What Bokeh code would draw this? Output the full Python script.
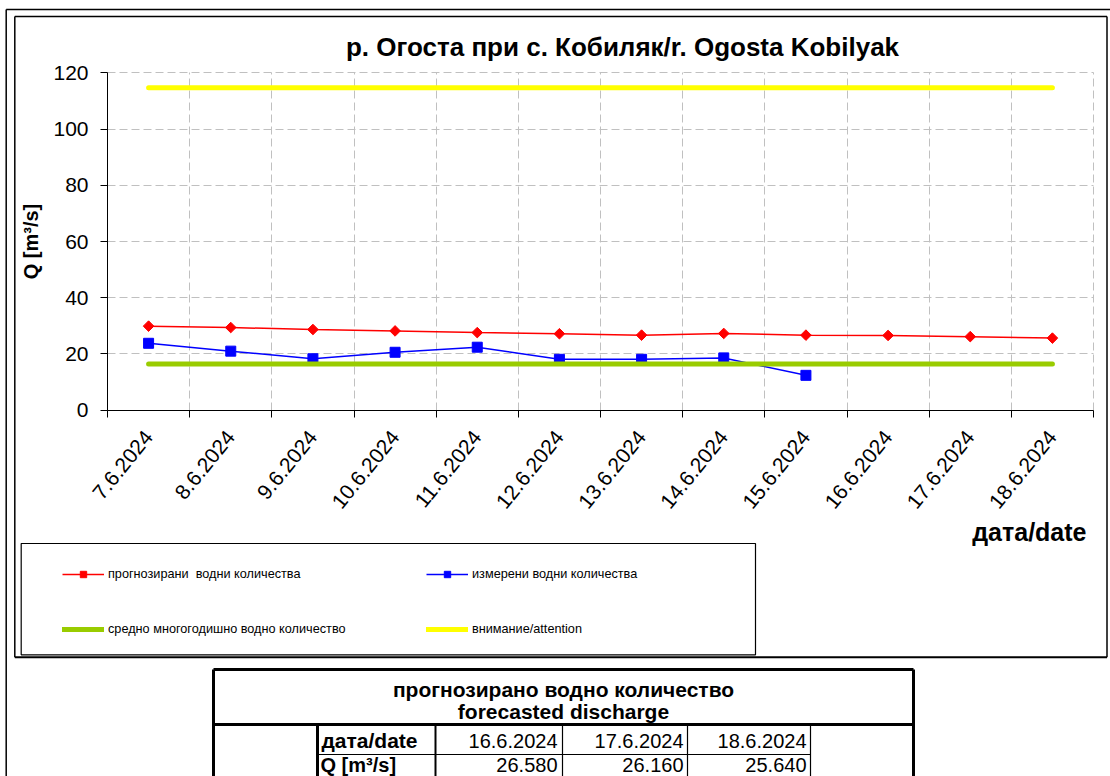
from bokeh.plotting import figure
from bokeh.models import Range1d, FixedTicker, Legend, LegendItem
from bokeh.core.properties import value
from bokeh.embed import file_html
from bokeh.resources import INLINE

# ---------------- data ----------------
dates = ["7.6.2024", "8.6.2024", "9.6.2024", "10.6.2024", "11.6.2024", "12.6.2024",
         "13.6.2024", "14.6.2024", "15.6.2024", "16.6.2024", "17.6.2024", "18.6.2024"]
forecast_q = [29.9, 29.4, 28.7, 28.2, 27.6, 27.2, 26.7, 27.3, 26.7, 26.58, 26.16, 25.64]
measured_q = [23.8, 21.0, 18.3, 20.6, 22.4, 18.1, 18.1, 18.6, 12.4]
mean_q = [16.4, 16.4, 16.4, 16.4, 16.4, 16.4, 16.4, 16.4, 16.4, 16.4, 16.4, 16.4]
attention_q = [114.7, 114.7, 114.7, 114.7, 114.7, 114.7, 114.7, 114.7, 114.7, 114.7, 114.7, 114.7]
y_ticks = [0, 20, 40, 60, 80, 100, 120]

title_text = "р. Огоста при с. Кобиляк/r. Ogosta Kobilyak"
y_title = "Q [m³/s]"
x_title = "дата/date"
legend_labels = ["прогнозирани  водни количества", "измерени водни количества",
                 "средно многогодишно водно количество", "внимание/attention"]
table_title = ["прогнозирано водно количество", "forecasted discharge"]
table_row_heads = ["дата/date", "Q [m³/s]"]
table_dates = ["16.6.2024", "17.6.2024", "18.6.2024"]
table_values = ["26.580", "26.160", "25.640"]

FONT = "Liberation Sans"
W, H = 1110, 776
RED, BLUE, GREEN, YELLOW = "#FF0000", "#0000FF", "#99CC00", "#FFFF00"
GRID = "#c0c0c0"

# plot-area placement on the page (pixels)
PX0, PX1 = 107.0, 1093.0      # left / right edge of the category axis
PY0, PY1 = 409.7, 72.3        # y = 0 / y = 120
Y_MAX = 120
n = len(dates)
sx = (PX1 - PX0) / n
sy = (PY0 - PY1) / Y_MAX

p = figure(width=W, height=H,
           x_range=Range1d(0.5 - PX0 / sx, 0.5 + (W - PX0) / sx),
           y_range=Range1d(-(H - PY0) / sy, PY0 / sy),
           output_backend="svg", toolbar_location=None, min_border=0)
p.outline_line_color = None
p.background_fill_color = "white"
p.border_fill_color = "white"
# page-pixel ranges for the frame, borders, legend box and table
p.extra_x_ranges = {"px": Range1d(0, W)}
p.extra_y_ranges = {"py": Range1d(H, 0)}

x_idx = list(range(1, n + 1))
bounds = [i + 0.5 for i in range(0, n + 1)]

# ---- x axis: labels at category centres, ticks / grid at boundaries ----
xt = FixedTicker(ticks=x_idx, minor_ticks=bounds)
p.xaxis.ticker = xt
p.xgrid.ticker = xt
p.xaxis.fixed_location = 0
p.xaxis.bounds = (0.5, n + 0.5)
p.xaxis.major_label_overrides = {i: d for i, d in zip(x_idx, dates)}
p.xaxis.major_tick_in = 0
p.xaxis.major_tick_out = 0
p.xaxis.minor_tick_in = 0
p.xaxis.minor_tick_out = 7
p.xaxis.minor_tick_line_color = "black"
p.xaxis.axis_line_color = "black"
p.xaxis.major_label_orientation = 0.89
p.xaxis.major_label_standoff = 16
p.xaxis.major_label_text_font_size = "21px"
p.xaxis.major_label_text_font = FONT
p.xaxis.major_label_text_color = "black"
p.xgrid.grid_line_color = None
p.xgrid.minor_grid_line_color = GRID
p.xgrid.minor_grid_line_dash = "8 4"
p.xgrid.cross_bounds = (0, Y_MAX)

# ---- y axis ----
yt = FixedTicker(ticks=y_ticks)
p.yaxis.ticker = yt
p.ygrid.ticker = yt
p.yaxis.fixed_location = 0.5
p.yaxis.bounds = (0, Y_MAX)
p.yaxis.major_tick_in = 0
p.yaxis.major_tick_out = 7
p.yaxis.minor_tick_out = 0
p.yaxis.minor_tick_in = 0
p.yaxis.major_tick_line_color = "black"
p.yaxis.axis_line_color = "black"
p.yaxis.major_label_standoff = 12
p.yaxis.major_label_text_font_size = "21px"
p.yaxis.major_label_text_font = FONT
p.yaxis.major_label_text_color = "black"
p.yaxis.axis_label = y_title
p.yaxis.axis_label_text_font = FONT
p.yaxis.axis_label_text_font_size = "20px"
p.yaxis.axis_label_text_font_style = "bold"
p.yaxis.axis_label_text_color = "black"
p.yaxis.axis_label_standoff = 8
p.ygrid.grid_line_color = GRID
p.ygrid.grid_line_dash = "8 4"
p.ygrid.cross_bounds = (0.5, n + 0.5)

# ---- series ----
r_fl = p.line(x_idx, forecast_q, line_color=RED, line_width=1.5)
r_fm = p.scatter(x_idx, forecast_q, marker="square", angle=0.785, size=7.5,
                 fill_color=RED, line_color=RED)
r_ml = p.line(x_idx[:len(measured_q)], measured_q, line_color=BLUE, line_width=1.5)
r_mm = p.scatter(x_idx[:len(measured_q)], measured_q, marker="square", size=10,
                 fill_color=BLUE, line_color=BLUE)
r_avg = p.line(x_idx, mean_q, line_color=GREEN, line_width=5, line_cap="round")
r_att = p.line(x_idx, attention_q, line_color=YELLOW, line_width=5, line_cap="round")


def seg(x0, y0, x1, y1, lw=1.5, color="black"):
    p.segment(x0=[x0], y0=[y0], x1=[x1], y1=[y1], line_color=color, line_width=lw,
              x_range_name="px", y_range_name="py")


def txt(x, y, s, size, bold=False, align="left"):
    p.text(x=[x], y=[y], text=[s], text_font=value(FONT), text_font_size=size,
           text_font_style="bold" if bold else "normal", text_align=align,
           text_baseline="middle", text_color="black",
           x_range_name="px", y_range_name="py")


# ---- frames ----
seg(5.7, 9, W + 5, 9)                 # outer frame (top / left)
seg(5.7, 9, 5.7, H + 5)
seg(14.3, 16, 1106.5, 16)             # chart area frame
seg(14.3, 16, 14.3, 656.7)
seg(1106.5, 16, 1106.5, 656.7)
seg(14.3, 656.7, 1106.5, 656.7, lw=2)

txt(622, 46, title_text, "26px", bold=True, align="center")
txt(1086, 531, x_title, "25px", bold=True, align="right")

# ---- legend ----
p.quad(left=[20.7], right=[755], top=[543], bottom=[654.3], fill_color=None,
       line_color="black", line_width=1.2, x_range_name="px", y_range_name="py")
legend = Legend(items=[
    LegendItem(label=legend_labels[0], renderers=[r_fl, r_fm]),
    LegendItem(label=legend_labels[1], renderers=[r_ml, r_mm]),
    LegendItem(label=legend_labels[2], renderers=[r_avg]),
    LegendItem(label=legend_labels[3], renderers=[r_att]),
], orientation="horizontal", ncols=2, location=(62, H - 637.3),
    padding=0, margin=0, border_line_color=None, background_fill_alpha=0,
    glyph_width=42, glyph_height=16, label_height=16, label_standoff=4,
    label_width=279, spacing=39, label_text_font_size="12.7px", label_text_font=FONT,
    label_text_color="black")
p.add_layout(legend)

# ---- table ----
TL, TR, TT = 213, 913, 669
seg(TL, TT, TR, TT, lw=3)
seg(TL, TT, TL, H + 5, lw=3)
seg(TR, TT, TR, H + 5, lw=3)
seg(TL, 724, TR, 724, lw=3)
seg(317, 724, 317, H + 5, lw=3)
seg(435, 724, 435, H + 5, lw=2)
for xv in (562, 687, 810):
    seg(xv, 724, xv, H + 5, lw=1.2)
seg(317, 754, 810, 754, lw=1.2)

txt(563, 689, table_title[0], "21px", bold=True, align="center")
txt(563, 711, table_title[1], "21px", bold=True, align="center")
txt(321, 740, table_row_heads[0], "21px", bold=True)
txt(320, 764, table_row_heads[1], "20px", bold=True)
for xr, d, v in zip((557, 683, 806), table_dates, table_values):
    txt(xr, 740, d, "20px", align="right")
    txt(xr, 764, v, "20px", align="right")

open("out.html", "w").write(file_html(p, INLINE))
